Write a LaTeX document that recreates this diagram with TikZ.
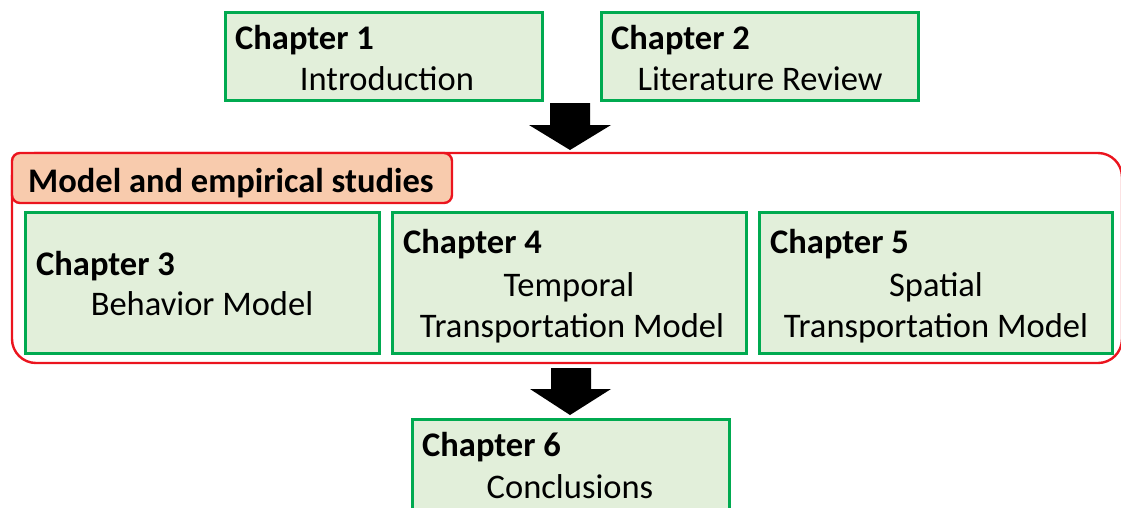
\documentclass[tikz,border=0pt]{standalone}
\usepackage{fontspec}
\setmainfont{Carlito}
\definecolor{boxgreen}{RGB}{0,170,80}
\definecolor{boxfill}{RGB}{226,239,218}
\definecolor{framered}{RGB}{235,20,30}
\definecolor{labelfill}{RGB}{248,203,173}
\begin{document}
\begin{tikzpicture}[x=1pt,y=-1pt,
  chbox/.style={draw=boxgreen,line width=3pt,fill=boxfill},
  ttl/.style={anchor=base west,inner sep=0pt,font=\fontsize{34.5}{40}\selectfont\bfseries},
  sub/.style={anchor=base,inner sep=0pt,font=\fontsize{34.5}{40}\selectfont},
  bigarrow/.style={fill=black}]
\useasboundingbox (0,0) rectangle (1121,507);
\clip (0,0) rectangle (1121,507);
% top boxes
\draw[chbox] (225,12) rectangle (542,100);
\node[ttl] (t1) at (235,49) {Chapter 1};
\node[sub] (s1) at (387,90) {Introduction};
\draw[chbox] (601,12) rectangle (918,100);
\node[ttl] (t2) at (611,49) {Chapter 2};
\node[sub] (s2) at (760,90) {Literature Review};
% arrow 1
\fill[bigarrow] (550,103) -- (590,103) -- (590,125) -- (611,125) -- (570,150) -- (529,125) -- (550,125) -- cycle;
% red frame
\draw[draw=framered,line width=2.4pt,rounded corners=24pt] (12,153) rectangle (1122,363);
\draw[draw=framered,line width=2.4pt,fill=labelfill,rounded corners=8pt] (12,153) rectangle (452,203);
\node[ttl] (lab) at (28,192) {Model and empirical studies};
% middle boxes
\draw[chbox] (25,212) rectangle (379,353);
\node[ttl] (t3) at (36,275) {Chapter 3};
\node[sub] (s3) at (202,315) {Behavior Model};
\draw[chbox] (392,212) rectangle (746,353);
\node[ttl] (t4) at (403,253) {Chapter 4};
\node[sub] (s4a) at (569,296) {Temporal};
\node[sub] (s4b) at (572,337) {Transportation Model};
\draw[chbox] (759,212) rectangle (1112,353);
\node[ttl] (t5) at (770,253) {Chapter 5};
\node[sub] (s5a) at (936,296) {Spatial};
\node[sub] (s5b) at (936,337) {Transportation Model};
% arrow 2
\fill[bigarrow] (551,368) -- (591,368) -- (591,389) -- (611,389) -- (570,415) -- (530,389) -- (551,389) -- cycle;
% bottom box
\draw[chbox] (412,419) rectangle (729,515);
\node[ttl] (t6) at (422,456) {Chapter 6};
\node[sub] (s6) at (570,498) {Conclusions};
\end{tikzpicture}
\end{document}
